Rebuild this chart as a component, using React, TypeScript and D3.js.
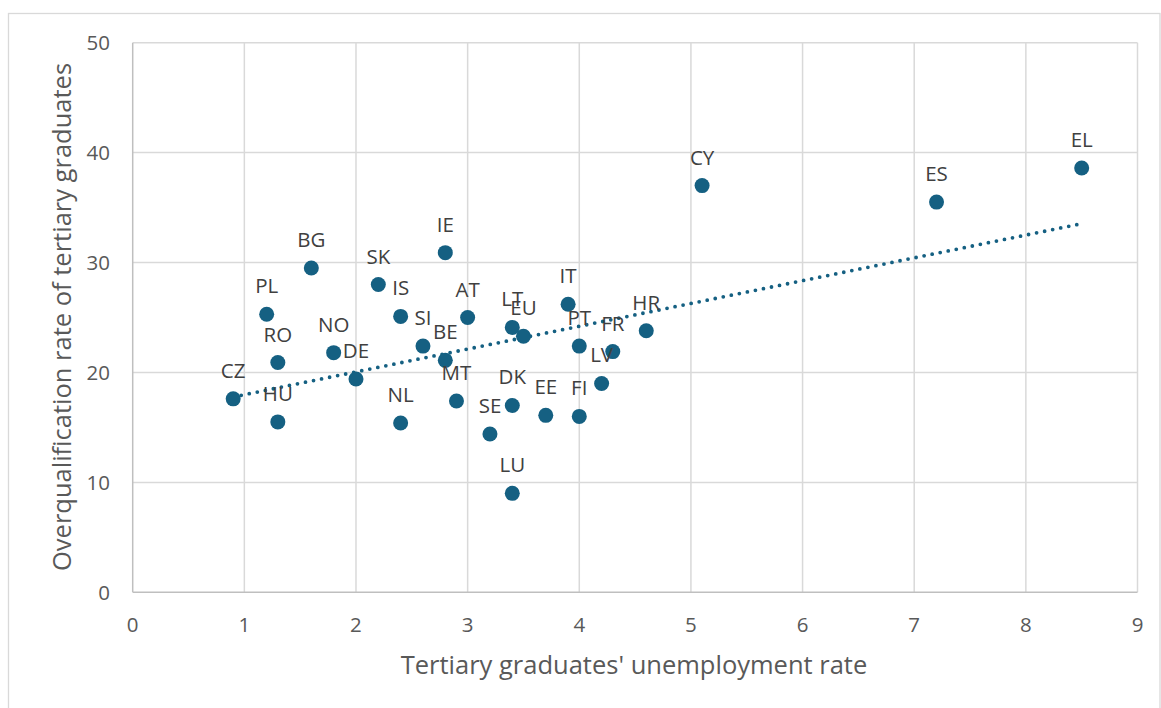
import React, { useRef, useEffect } from "react";
import * as d3 from "d3";

// countries, unemployment rate (x) and overqualification rate (y)
const countries = ["CZ", "HU", "RO", "PL", "BG", "NO", "DE", "SK", "IS", "SI", "BE", "IE", "AT", "MT", "NL", "SE", "LT", "EU", "IT", "PT", "FR", "HR", "LV", "DK", "EE", "FI", "LU", "CY", "ES", "EL"];
const unemployment = [0.9, 1.3, 1.3, 1.2, 1.6, 1.8, 2.0, 2.2, 2.4, 2.6, 2.8, 2.8, 3.0, 2.9, 2.4, 3.2, 3.4, 3.5, 3.9, 4.0, 4.3, 4.6, 4.2, 3.4, 3.7, 4.0, 3.4, 5.1, 7.2, 8.5];
const overqualification = [17.6, 15.5, 20.9, 25.3, 29.5, 21.8, 19.4, 28.0, 25.1, 22.4, 21.1, 30.9, 25.0, 17.4, 15.4, 14.4, 24.1, 23.3, 26.2, 22.4, 21.9, 23.8, 19.0, 17.0, 16.1, 16.0, 9.0, 37.0, 35.5, 38.6];

const xTicks = [0, 1, 2, 3, 4, 5, 6, 7, 8, 9];
const yTicks = [0, 10, 20, 30, 40, 50];

const xTitle = "Tertiary graduates' unemployment rate";
const yTitle = "Overqualification rate of tertiary graduates";

const App = () => {
  const container = useRef(null);

  const width = 1161;
  const height = 708;
  const margin = { left: 132.7, right: 1137.5, top: 42.7, bottom: 592.3 };

  useEffect(() => {
    const svg = d3.select(container.current);
    svg.selectAll("*").remove();

    const font = "'Open Sans', 'Noto Sans', sans-serif";
    const blue = "#156082";
    const grey = "#595959";

    const xScale = d3.scaleLinear().domain([0, 9]).range([margin.left, margin.right]);
    const yScale = d3.scaleLinear().domain([0, 50]).range([margin.bottom, margin.top]);

    // outer chart frame
    svg
      .append("rect")
      .attr("x", 8.5)
      .attr("y", 13.5)
      .attr("width", 1151.5)
      .attr("height", 720)
      .attr("fill", "white")
      .attr("stroke", "#d9d9d9")
      .attr("stroke-width", 1.3);

    // gridlines
    svg
      .append("g")
      .selectAll("line")
      .data(yTicks.filter((d) => d > 0))
      .enter()
      .append("line")
      .attr("x1", margin.left)
      .attr("x2", margin.right)
      .attr("y1", (d) => yScale(d))
      .attr("y2", (d) => yScale(d))
      .attr("stroke", "#d9d9d9")
      .attr("stroke-width", 1.5);

    svg
      .append("g")
      .selectAll("line")
      .data(xTicks.filter((d) => d > 0))
      .enter()
      .append("line")
      .attr("x1", (d) => xScale(d))
      .attr("x2", (d) => xScale(d))
      .attr("y1", margin.top)
      .attr("y2", margin.bottom)
      .attr("stroke", "#d9d9d9")
      .attr("stroke-width", 1.5);

    // axes lines
    svg
      .append("line")
      .attr("x1", margin.left)
      .attr("x2", margin.left)
      .attr("y1", margin.top)
      .attr("y2", margin.bottom)
      .attr("stroke", "#bfbfbf")
      .attr("stroke-width", 1.5);
    svg
      .append("line")
      .attr("x1", margin.left)
      .attr("x2", margin.right)
      .attr("y1", margin.bottom)
      .attr("y2", margin.bottom)
      .attr("stroke", "#bfbfbf")
      .attr("stroke-width", 1.5);

    // tick labels
    svg
      .append("g")
      .selectAll("text")
      .data(yTicks)
      .enter()
      .append("text")
      .attr("x", 110)
      .attr("y", (d) => yScale(d) + 7.5)
      .attr("text-anchor", "end")
      .style("font-family", font)
      .style("font-size", "20.5px")
      .style("fill", grey)
      .text((d) => d);

    svg
      .append("g")
      .selectAll("text")
      .data(xTicks)
      .enter()
      .append("text")
      .attr("x", (d) => xScale(d))
      .attr("y", 631.5)
      .attr("text-anchor", "middle")
      .style("font-family", font)
      .style("font-size", "20.5px")
      .style("fill", grey)
      .text((d) => d);

    // axis titles
    svg
      .append("text")
      .attr("x", 634)
      .attr("y", 674)
      .attr("text-anchor", "middle")
      .style("font-family", font)
      .style("font-size", "25.5px")
      .style("fill", grey)
      .text(xTitle);

    svg
      .append("text")
      .attr("transform", `translate(71, 317) rotate(-90)`)
      .attr("text-anchor", "middle")
      .style("font-family", font)
      .style("font-size", "25.5px")
      .style("fill", grey)
      .text(yTitle);

    // linear trendline (least squares)
    const n = unemployment.length;
    const mx = d3.mean(unemployment);
    const my = d3.mean(overqualification);
    let sxy = 0;
    let sxx = 0;
    for (let i = 0; i < n; i++) {
      sxy += (unemployment[i] - mx) * (overqualification[i] - my);
      sxx += (unemployment[i] - mx) ** 2;
    }
    const slope = sxy / sxx;
    const intercept = my - slope * mx;
    const [x0, x1] = d3.extent(unemployment);

    svg
      .append("line")
      .attr("x1", xScale(x0))
      .attr("y1", yScale(intercept + slope * x0))
      .attr("x2", xScale(x1))
      .attr("y2", yScale(intercept + slope * x1))
      .attr("stroke", blue)
      .attr("stroke-width", 3.8)
      .attr("stroke-linecap", "round")
      .attr("stroke-dasharray", "0 8.2");

    // points
    const data = countries.map((c, i) => ({ c, x: unemployment[i], y: overqualification[i] }));

    svg
      .append("g")
      .selectAll("circle")
      .data(data)
      .enter()
      .append("circle")
      .attr("cx", (d) => xScale(d.x))
      .attr("cy", (d) => yScale(d.y))
      .attr("r", 7.5)
      .attr("fill", blue);

    svg
      .append("g")
      .selectAll("text")
      .data(data)
      .enter()
      .append("text")
      .attr("x", (d) => xScale(d.x))
      .attr("y", (d) => yScale(d.y) - 21)
      .attr("text-anchor", "middle")
      .style("font-family", font)
      .style("font-size", "20.5px")
      .style("fill", "#404040")
      .text((d) => d.c);
    // eslint-disable-next-line react-hooks/exhaustive-deps
  }, []);

  return (
    <svg
      ref={container}
      width={width}
      height={height}
      style={{ position: "absolute", left: 0, top: 0 }}
    />
  );
};

export default App;
